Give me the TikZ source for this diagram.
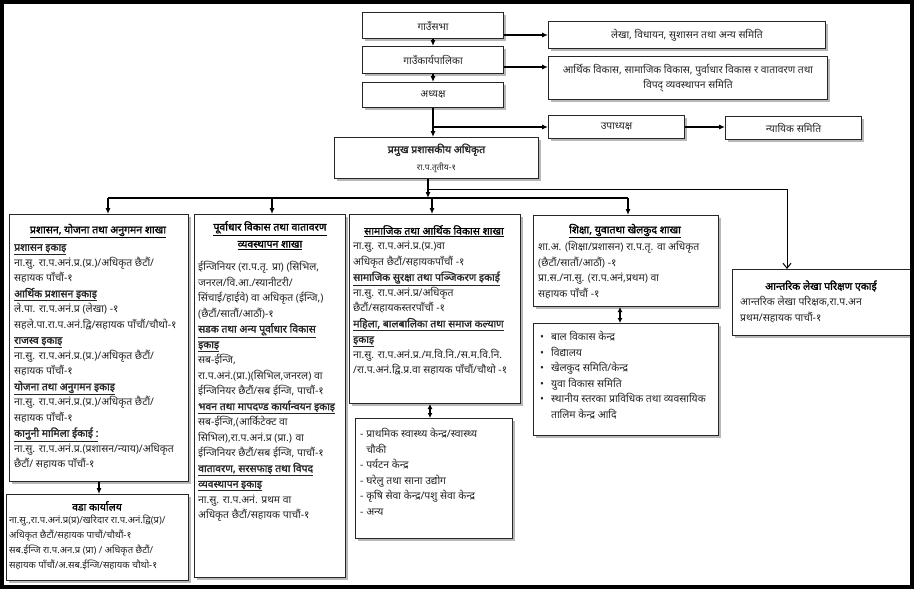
\documentclass[tikz,border=0pt]{standalone}
\usepackage{fontspec}
\setmainfont[Script=Devanagari, BoldFont={Noto Sans}, BoldFeatures={FakeBold=1.6}]{Noto Sans}
\usetikzlibrary{shadows,arrows.meta}
\newcommand\ulhd[1]{\underline{\textbf{#1}}}
\begin{document}
\begin{tikzpicture}[x=1pt,y=-1pt,
 bx/.style={draw=black!85, line width=1pt, fill=white, drop shadow={shadow xshift=2.5pt, shadow yshift=-2.5pt, opacity=0.5, fill=black!55}, inner sep=0pt, anchor=north west},
 lbl/.style={inner sep=0pt, font=\fontsize{10.3}{15}\selectfont, align=center, text=black!85},
 hd/.style={inner sep=0pt, font=\fontsize{10.5}{17}\selectfont\bfseries, align=center},
 body/.style={inner sep=0pt, anchor=north west, font=\fontsize{10.4}{15.5}\selectfont, align=left, text=black!85},
 arr/.style={-{Latex[length=6pt,width=5pt]}, line width=1.1pt},
 darr/.style={{Latex[length=5pt,width=5pt]}-{Latex[length=5pt,width=5pt]}, line width=1.1pt},
 oarr/.style={-{Straight Barb[length=5pt,width=8pt]}, line width=1pt},
 ln/.style={line width=1.1pt}
]
\useasboundingbox (0,0) rectangle (914,589);
\fill[white] (0,0) rectangle (914,589);

% top boxes
\node[bx, minimum width=141pt, minimum height=26pt] (sabha) at (362,12) {};
\node[lbl] (sabhat) at (sabha.center) {गाउँसभा};
\node[bx, minimum width=141pt, minimum height=27pt] (karya) at (362,46) {};
\node[lbl] (karyat) at (karya.center) {गाउँकार्यपालिका};
\node[bx, minimum width=141pt, minimum height=25pt] (adh) at (362,82) {};
\node[lbl] (adht) at (adh.center) {अध्यक्ष};
\node[bx, minimum width=277pt, minimum height=27pt] (lekha) at (548,21) {};
\node[lbl] (lekhat) at (lekha.center) {लेखा, विधायन, सुशासन तथा अन्य समिति};
\node[bx, minimum width=279pt, minimum height=43pt] (arthik) at (548,56) {};
\node[lbl] (arthikt) at (arthik.center) {आर्थिक विकास, सामाजिक विकास, पुर्वाधार विकास र वातावरण तथा\\विपद् व्यवस्थापन समिति};
\node[bx, minimum width=136pt, minimum height=23pt] (upa) at (548,115) {};
\node[lbl] (upat) at (upa.center) {उपाध्यक्ष};
\node[bx, minimum width=136pt, minimum height=23pt] (nyay) at (725,116) {};
\node[lbl] (nyayt) at (nyay.center) {न्यायिक समिति};
\node[bx, minimum width=204pt, minimum height=41pt] (pram) at (334,137) {};
\node[lbl, font=\fontsize{10.5}{17}\selectfont] (pramt) at (pram.center) {\textbf{प्रमुख प्रशासकीय अधिकृत}\\{\fontsize{8.5}{10}\selectfont रा.प.तृतीय-१}};

% column boxes
\node[bx, minimum width=179pt, minimum height=267pt] (b1) at (9,214) {};
\node[hd] (b1h) at (98,231) {\underline{प्रशासन, योजना तथा अनुगमन शाखा}};
\node[body] (b1t) at (14,244) {\ulhd{प्रशासन इकाइ}\\
ना.सु. रा.प.अनं.प्र.(प्र.)/अधिकृत छैटौं/\\
सहायक पाँचौं-१\\
\ulhd{आर्थिक प्रशासन इकाइ}\\
ले.पा. रा.प.अनं.प्र (लेखा) -१\\
सहले.पा.रा.प.अनं.द्वि/सहायक पाँचौं/चौथो-१\\
\ulhd{राजस्व इकाइ}\\
ना.सु. रा.प.अनं.प्र.(प्र.)/अधिकृत छैटौं/\\
सहायक पाँचौं-१\\
\ulhd{योजना तथा अनुगमन इकाइ}\\
ना.सु. रा.प.अनं.प्र.(प्र.)/अधिकृत छैटौं/\\
सहायक पाँचौं-१\\
\ulhd{कानुनी मामिला ईकाई :}\\
ना.सु. रा.प.अनं.प्र.(प्रशासन/न्याय)/अधिकृत\\
छैटौं/ सहायक पाँचौं-१};

\node[bx, minimum width=151pt, minimum height=363pt] (b2) at (194,214) {};
\node[hd, anchor=north] (b2h) at (270,221) {\underline{पूर्वाधार विकास तथा वातावरण}\\\underline{व्यवस्थापन शाखा}};
\node[body] (b2t) at (198,261) {ईन्जिनियर (रा.प.तृ. प्रा) (सिभिल,\\
जनरल/वि.आ./स्यानीटरी/\\
सिंचाई/हाईवे) वा अधिकृत (ईन्जि,)\\
(छैटौं/सातौं/आठौं)-१\\
\ulhd{सडक तथा अन्य पूर्वाधार विकास}\\
\ulhd{इकाइ}\\
सब-ईन्जि,\\
रा.प.अनं.(प्रा.)(सिभिल,जनरल) वा\\
ईन्जिनियर छैटौं/सब ईन्जि, पाचौं-१\\
\ulhd{भवन तथा मापदण्ड कार्यान्वयन इकाइ}\\
सब-ईन्जि,(आर्किटेक्ट वा\\
सिभिल),रा.प.अनं.प्र (प्रा.) वा\\
ईन्जिनियर छैटौं/सब ईन्जि, पाचौं-१\\
\ulhd{वातावरण, सरसफाइ तथा विपद}\\
\ulhd{व्यवस्थापन इकाइ}\\
ना.सु. रा.प.अनं. प्रथम वा\\
अधिकृत छैटौं/सहायक पाचौं-१};

\node[bx, minimum width=171pt, minimum height=189pt] (b3) at (349,214) {};
\node[hd] (b3h) at (434,231) {\underline{सामाजिक तथा आर्थिक विकास शाखा}};
\node[body] (b3t) at (353,241) {ना.सु. रा.प.अनं.प्र.(प्र.)वा\\
अधिकृत छैटौं/सहायकपाँचौं -१\\
\ulhd{सामाजिक सुरक्षा तथा पञ्जिकरण इकाई}\\
ना.सु. रा.प.अनं.प्र/अधिकृत\\
छैटौं/सहायकस्तरपाँचौं -१\\
\ulhd{महिला, बालबालिका तथा समाज कल्याण}\\
\ulhd{इकाइ}\\
ना.सु. रा.प.अनं.प्र./म.वि.नि./स.म.वि.नि.\\
/रा.प.अनं.द्वि.प्र.वा सहायक पाँचौं/चौथो -१};

\node[bx, minimum width=157pt, minimum height=120pt] (b3b) at (355,418) {};
\node[body] (b3bt) at (360,428) {- प्राथमिक स्वास्थ्य केन्द्र/स्वास्थ्य\\
\phantom{- }चौकी\\
- पर्यटन केन्द्र\\
- घरेलु तथा साना उद्योग\\
- कृषि सेवा केन्द्र/पशु सेवा केन्द्र\\
- अन्य};

\node[bx, minimum width=185pt, minimum height=91pt] (b4) at (533,215) {};
\node[hd] (b4h) at (625,231) {\underline{शिक्षा, युवातथा खेलकुद शाखा}};
\node[body] (b4t) at (538,241) {शा.अ. (शिक्षा/प्रशासन) रा.प.तृ. वा अधिकृत\\
(छैटौं/सातौं/आठौं) -१\\
प्रा.स./ना.सु. (रा.प.अनं,प्रथम) वा\\
सहायक पाँचौं -१};

\node[bx, minimum width=185pt, minimum height=112pt] (b4b) at (533,323) {};
\node[body] (b4bt) at (540,331) {•\hspace{7pt}बाल विकास केन्द्र\\
•\hspace{7pt}विद्यालय\\
•\hspace{7pt}खेलकुद समिति/केन्द्र\\
•\hspace{7pt}युवा विकास समिति\\
•\hspace{7pt}स्थानीय स्तरका प्राविधिक तथा व्यवसायिक\\
\phantom{•}\hspace{7pt}तालिम केन्द्र आदि};

\node[bx, minimum width=178pt, minimum height=66pt] (b5) at (732,269) {};
\node[hd] (b5h) at (821,286) {आन्तरिक लेखा परिक्षण एकाई};
\node[body] (b5t) at (740,296) {आन्तरिक लेखा परिक्षक,रा.प.अन\\
प्रथम/सहायक पाचौं-१};

\node[bx, minimum width=182pt, minimum height=86pt] (ward) at (6,494) {};
\node[hd] (wardh) at (97,506) {वडा कार्यालय};
\node[body, font=\fontsize{9.5}{15}\selectfont] (wardt) at (9,515) {ना.सु.,रा.प.अनं.प्र(प्र)/खरिदार रा.प.अनं.द्वि(प्र)/\\
अधिकृत छैटौं/सहायक पाचौं/चौथौं-१\\
सब.ईन्जि रा.प.अन.प्र (प्रा) / अधिकृत छैटौं/\\
सहायक पाँचौं/अ.सब.ईन्जि/सहायक चौथो-१};

% connectors
\draw[arr] (sabha.south) -- (karya.north);
\draw[arr] (karya.south) -- (adh.south |- adh.north);
\draw[arr] (sabha.east |- lekha.west) -- (lekha.west);
\draw[arr] ([yshift=-7pt]karya.east) -- ([yshift=-7pt]karya.east -| arthik.west);
\draw[arr] (adh.south) -- (adh.south |- pram.north);
\draw[arr] (adh.south |- upa.west) -- (upa.west);
\draw[arr] (upa.east) -- (upa.east -| nyay.west);

\coordinate (j) at (428,198);
\coordinate (t1) at (108,198);
\coordinate (t2) at (272,198);
\coordinate (t3) at (432,198);
\coordinate (t4) at (628,198);
\coordinate (rb) at (787,189);
\draw[arr] (pram.south -| j) -- (j);
\draw[ln] (t1) -- (t4);
\draw[arr] (t1) -- (t1 |- b1.north);
\draw[arr] (t2) -- (t2 |- b2.north);
\draw[arr] (t3) -- (t3 |- b3.north);
\draw[arr] (t4) -- (t4 |- b4.north);
\draw[oarr] (j |- rb) -- (rb) -- (rb |- b5.north);
\draw[arr] (b1.south) -- (b1.south |- ward.north);
\draw[darr] (b3b.north -| 430,0) -- (b3.south -| 430,0);
\draw[darr] (b4b.north -| 620,0) -- (b4.south -| 620,0);

% frame
\draw[line width=4pt] (2,2) rectangle (912,587);
\end{tikzpicture}
\end{document}
